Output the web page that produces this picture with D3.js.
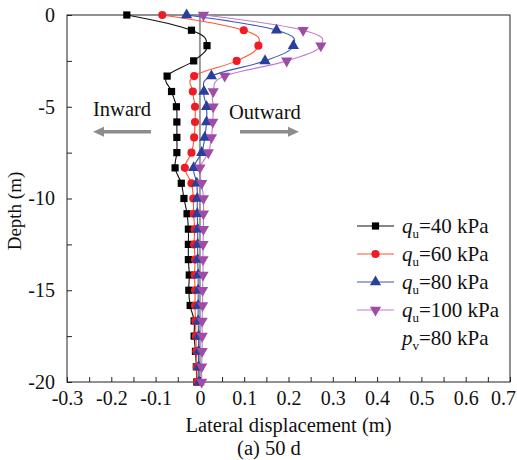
<!DOCTYPE html>
<html>
<head>
<meta charset="utf-8">
<script src="https://cdn.jsdelivr.net/npm/d3@7"></script>
<style>
  body { margin: 0; background: #fff; }
  text { font-family: "Liberation Serif", "Times New Roman", serif; fill: #111; }
</style>
</head>
<body>
<div id="chart"></div>
<script>
// Data (depth in m, lateral displacement in m)
const depths = [0, -0.83, -1.67, -2.5, -3.33, -4.17, -5, -5.83, -6.67, -7.5, -8.33, -9.17, -10,
  -10.83, -11.67, -12.5, -13.33, -14.17, -15, -15.83, -16.67, -17.5, -18.33, -19.17, -20];

const q40 = [-0.165, -0.019, 0.016, -0.014, -0.074, -0.064, -0.053, -0.052, -0.052, -0.052, -0.056, -0.042, -0.036,
  -0.029, -0.026, -0.026, -0.026, -0.024, -0.025, -0.022, -0.013, -0.013, -0.010, -0.008, -0.007];
const q60 = [-0.085, 0.099, 0.132, 0.083, -0.013, -0.016, -0.011, -0.011, -0.013, -0.019, -0.034, -0.019, -0.015,
  -0.014, -0.012, -0.013, -0.011, -0.012, -0.011, -0.011, -0.010, -0.009, -0.008, -0.007, -0.006];
const q80 = [-0.030, 0.173, 0.211, 0.147, 0.026, 0.009, 0.015, 0.015, 0.011, 0.004, -0.014, -0.007, -0.006,
  -0.006, -0.005, -0.005, -0.005, -0.004, -0.004, -0.004, -0.004, -0.003, -0.003, -0.003, -0.002];
const q100 = [0.008, 0.233, 0.273, 0.196, 0.056, 0.030, 0.030, 0.029, 0.026, 0.019, 0.000, 0.004, 0.008,
  0.008, 0.008, 0.007, 0.007, 0.007, 0.006, 0.006, 0.005, 0.005, 0.005, 0.004, 0.004];

const seriesNames = ["40 kPa", "60 kPa", "80 kPa", "100 kPa"];
const xTickLabels = [-0.3, -0.2, -0.1, 0, 0.1, 0.2, 0.3, 0.4, 0.5, 0.6, 0.7];
const xMinorTicks = [-0.25, -0.15, -0.05, 0.05, 0.15, 0.25, 0.35, 0.45, 0.55, 0.65];
const yTickLabels = [0, -5, -10, -15, -20];
const yMinorTicks = [-2.5, -7.5, -12.5, -17.5];

// Layout
const W = 517, H = 460;
const margin = {top: 15, right: 7, bottom: 78, left: 67},
      width = W - margin.left - margin.right,
      height = H - margin.top - margin.bottom;

const styles = [
  {line: "#111", fill: "#000", shape: d3.symbolSquare, size: 52, rot: 0},
  {line: "#ff5436", fill: "#ee1c24", shape: d3.symbolCircle, size: 52, rot: 0},
  {line: "#3a55b5", fill: "#283f9e", shape: d3.symbolTriangle, size: 55, rot: 0},
  {line: "#c47ccc", fill: "#a04ca6", shape: d3.symbolTriangle, size: 55, rot: 180}
];

const series = [q40, q60, q80, q100].map((vals, i) =>
  ({name: seriesNames[i], style: styles[i], pts: vals.map((v, j) => ({x: v, d: depths[j]}))}));

const x = d3.scaleLinear().domain([-0.3, 0.7]).range([0, width]);
const y = d3.scaleLinear().domain([0, -20]).range([0, height]);

const svg = d3.select("#chart").append("svg")
  .attr("width", W).attr("height", H);

const g = svg.append("g")
  .attr("transform", `translate(${margin.left},${margin.top})`);

// zero line
g.append("line")
  .attr("x1", x(0)).attr("x2", x(0))
  .attr("y1", 0).attr("y2", height)
  .attr("stroke", "#9a9a9a").attr("stroke-width", 2);

// Axes (ticks point inward)
const fmt = d => String(d);

const xAxisG = g.append("g")
  .attr("transform", `translate(0,${height})`)
  .call(d3.axisBottom(x).tickValues(xTickLabels).tickFormat(fmt).tickSize(-5).tickPadding(9))
  .call(styleAxis);
// last label sits a little inside the frame, as in the figure
xAxisG.selectAll(".tick text").filter(d => d === 0.7).attr("dx", -7);

g.append("g")
  .attr("transform", `translate(0,${height})`)
  .call(d3.axisBottom(x).tickValues(xMinorTicks).tickFormat("").tickSize(-5))
  .call(styleAxis);

g.append("g")
  .call(d3.axisLeft(y).tickValues(yTickLabels).tickFormat(fmt).tickSize(-5).tickPadding(12))
  .call(styleAxis);
g.append("g")
  .call(d3.axisLeft(y).tickValues(yMinorTicks).tickFormat("").tickSize(-5))
  .call(styleAxis);

// frame
g.append("rect")
  .attr("width", width).attr("height", height)
  .attr("fill", "none").attr("stroke", "#222").attr("stroke-width", 1);

// Series
const line = d3.line()
  .x(p => x(p.x)).y(p => y(p.d))
  .curve(d3.curveCardinal.tension(-0.2));

series.forEach(s => {
  g.append("path")
    .datum(s.pts)
    .attr("fill", "none")
    .attr("stroke", s.style.line)
    .attr("stroke-width", 1.1)
    .attr("d", line);
});
series.forEach(s => {
  g.selectAll(null)
    .data(s.pts)
    .enter().append("path")
      .attr("transform", p => `translate(${x(p.x)},${y(p.d)}) rotate(${s.style.rot})`)
      .attr("d", d3.symbol().type(s.style.shape).size(s.style.size))
      .attr("fill", s.style.fill);
});

// Inward / Outward annotations
const arrowY = 131.7 - margin.top;
g.append("text").attr("x", 93 - margin.left).attr("y", 116 - margin.top)
  .style("font-size", "20.5px").text("Inward");
g.append("text").attr("x", 229 - margin.left).attr("y", 119 - margin.top)
  .style("font-size", "20.5px").text("Outward");

function arrow(x0, x1) {
  const dir = Math.sign(x1 - x0);
  const head = 11;
  g.append("line")
    .attr("x1", x0).attr("x2", x1 - dir * head)
    .attr("y1", arrowY).attr("y2", arrowY)
    .attr("stroke", "#8c8c8c").attr("stroke-width", 3.5);
  g.append("path")
    .attr("d", `M${x1},${arrowY} L${x1 - dir * head},${arrowY - 5} L${x1 - dir * head},${arrowY + 5} Z`)
    .attr("fill", "#8c8c8c");
}
arrow(151 - margin.left, 93 - margin.left);
arrow(240 - margin.left, 299 - margin.left);

// Legend
const legend = svg.append("g").attr("transform", "translate(357,226)");
series.forEach((s, i) => {
  const row = legend.append("g").attr("transform", `translate(0,${i * 28})`);
  row.append("line").attr("x1", 0).attr("x2", 37).attr("y1", 0).attr("y2", 0)
    .attr("stroke", s.style.line).attr("stroke-width", 1.1);
  row.append("path")
    .attr("transform", `translate(18.5,0) rotate(${s.style.rot})`)
    .attr("d", d3.symbol().type(s.style.shape).size(s.style.size))
    .attr("fill", s.style.fill);
  const t = row.append("text").attr("x", 45).attr("y", 7).style("font-size", "21px");
  t.append("tspan").style("font-style", "italic").text("q");
  t.append("tspan").attr("dy", 5).style("font-size", "13px").text("u");
  t.append("tspan").attr("dy", -5).text("=" + s.name);
});
const pv = legend.append("text").attr("x", 45).attr("y", 4 * 28 + 7).style("font-size", "21px");
pv.append("tspan").style("font-style", "italic").text("p");
pv.append("tspan").attr("dy", 5).style("font-size", "13px").text("v");
pv.append("tspan").attr("dy", -5).text("=80 kPa");

// Axis titles
svg.append("text")
  .attr("x", margin.left + width / 2).attr("y", 432)
  .attr("text-anchor", "middle").style("font-size", "20.5px")
  .text("Lateral displacement (m)");
svg.append("text")
  .attr("x", 269).attr("y", 455)
  .attr("text-anchor", "middle").style("font-size", "20.5px")
  .text("(a) 50 d");
svg.append("text")
  .attr("transform", "translate(21,211) rotate(-90)")
  .attr("text-anchor", "middle").style("font-size", "19px")
  .text("Depth (m)");

function styleAxis(sel) {
  sel.select(".domain").remove();
  sel.selectAll(".tick line").attr("stroke", "#222");
  sel.selectAll(".tick text")
    .style("font-family", "'Liberation Serif', 'Times New Roman', serif")
    .style("font-size", "20px")
    .attr("fill", "#111");
}
</script>
</body>
</html>
